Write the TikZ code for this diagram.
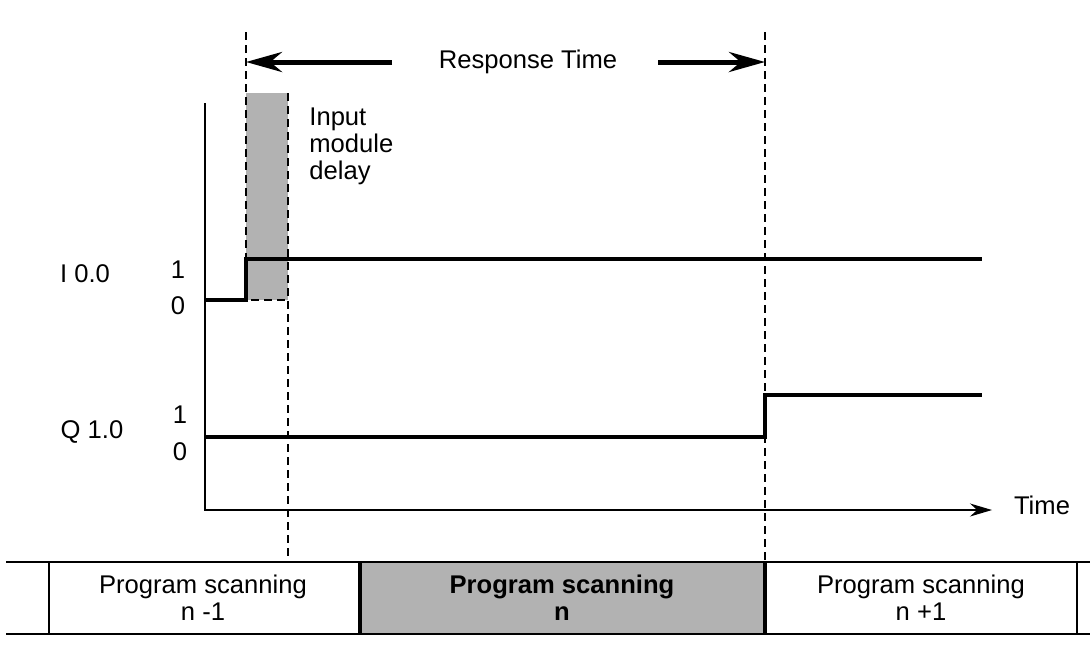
\documentclass[tikz,border=0pt]{standalone}
\usepackage{fontspec}
\setmainfont{Liberation Sans}
\usetikzlibrary{arrows.meta}

\begin{document}
\begin{tikzpicture}[x=0.5pt, y=-0.5pt,
    every node/.style={font=\fontsize{12.8}{13.5}\selectfont, inner sep=0pt},
    sig/.style={line width=2.2pt},
    guide/.style={dash pattern=on 4pt off 2.5pt, line width=0.7pt},
    axisline/.style={line width=0.75pt},
    shade/.style={fill=black!30}]
    \useasboundingbox (0,0) rectangle (1090,670);

    % time axis
    \coordinate (O) at (205,510);
    \coordinate (T) at (992,510);
    \draw[axisline, -{Stealth[length=11pt, width=6.5pt]}] (205,103) -- (O) -- (T);
    \node (time) at (1042,505) {Time};

    % input module delay
    \fill[shade] (246,93) rectangle (288,300);
    \draw[guide] (246,32) -- (246,300) -- (288,300);
    \draw[guide] (288,93) -- (288,562);
    \draw[guide] (765,32) -- (765,562);
    \node[anchor=north west, align=left] (delay) at (309,107) {Input\\module\\delay};

    % response time
    \node (resp) at (528,62) {Response Time};
    \draw[line width=2.5pt, -{Stealth[length=18pt, width=10pt]}] (392,62) -- (246,62);
    \draw[line width=2.5pt, -{Stealth[length=18pt, width=10pt]}] (658,62) -- (765,62);

    % signals
    \node (I) at (85,274) {I 0.0};
    \node (I1) at (178,270) {1};
    \node (I0) at (178,306) {0};
    \draw[sig] (205,300) -- (246,300) -- (246,259) -- (982,259);

    \node (Q) at (92,432) {Q 1.0};
    \node (Q1) at (180,415) {1};
    \node (Q0) at (180,452) {0};
    \draw[sig] (205,437) -- (765,437) -- (765,395) -- (982,395);

    % program scanning cycles
    \fill[shade] (360,562) rectangle (765,634);
    \draw[axisline] (6,562) -- (1090,562);
    \draw[axisline] (6,634) -- (1090,634);
    \draw[axisline] (49,562) -- (49,634);
    \draw[axisline] (1077,562) -- (1077,634);
    \draw[sig] (360,562) -- (360,634);
    \draw[sig] (765,562) -- (765,634);

    \node[align=center] (scanA) at (203,598) {Program scanning\\n -1};
    \node[align=center, font=\fontsize{12.8}{13.5}\selectfont\bfseries] (scanB) at (562,598) {Program scanning\\n};
    \node[align=center] (scanC) at (921,598) {Program scanning\\n +1};
\end{tikzpicture}
\end{document}
